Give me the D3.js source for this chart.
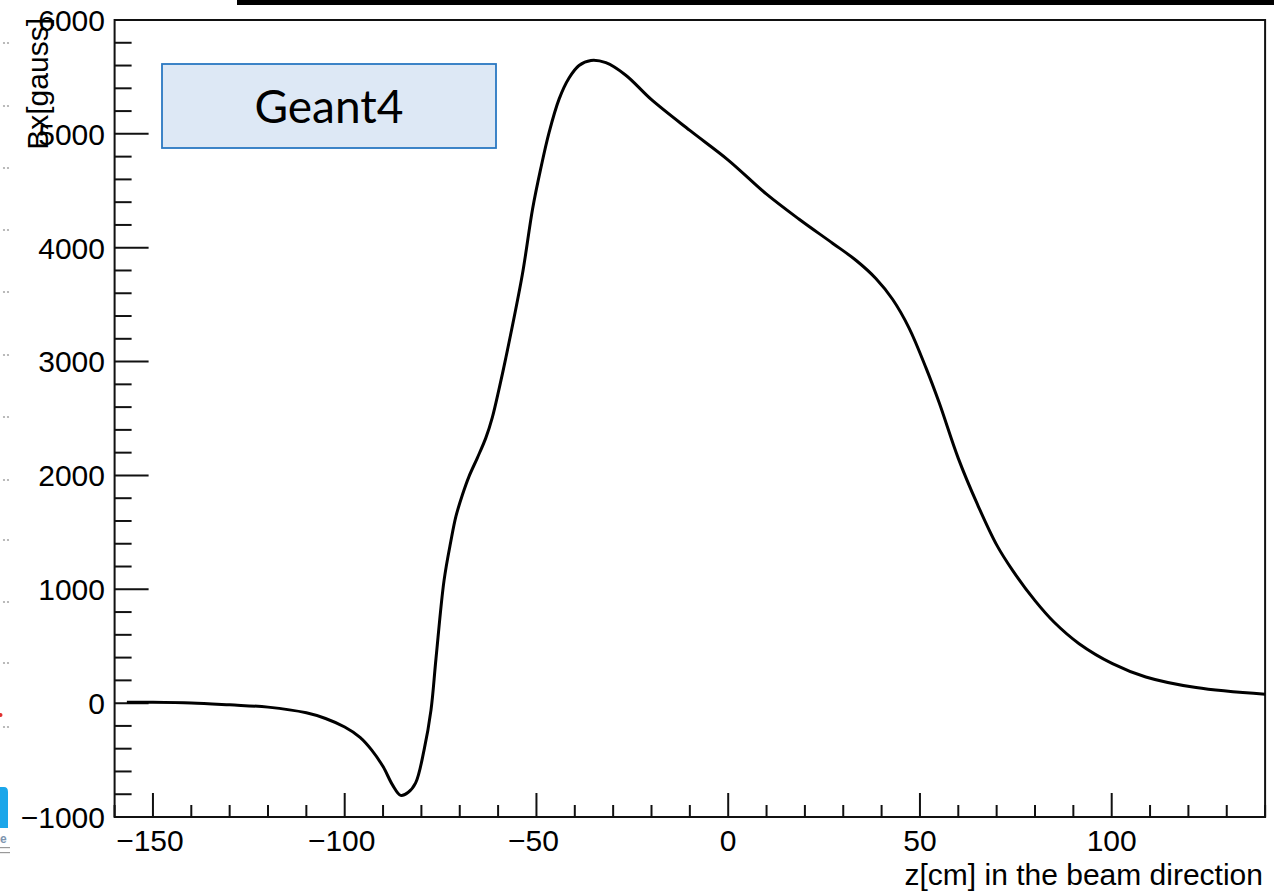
<!DOCTYPE html>
<html>
<head>
<meta charset="utf-8">
<script src="https://cdn.jsdelivr.net/npm/d3@7/dist/d3.min.js"></script>
<style>
  html, body { margin: 0; padding: 0; background: #fff; }
  svg { display: block; }
  .tick-label { font-family: "Liberation Sans", Arial, Helvetica, sans-serif; font-size: 30px; fill: #000; }
</style>
</head>
<body>
<svg id="chart" width="1274" height="892"></svg>
<script>
// Field profile along the beam axis: z position [cm] and Bx [gauss]
const zValues = [
  -156.8, -150, -140, -130, -120, -110, -105, -100, -96, -93, -90, -87.5, -85.4, -83.5, -81.5,
  -79.3, -77.5, -76.2, -74.1, -72.3, -71.0, -69.3, -67.6, -65.4, -63.2, -61.5,
  -59.7, -58.0, -53.7, -51.0, -48.9, -46.7, -44.1, -41.5, -38.9, -35.8, -31.9,
  -26.7, -20, -10, 0, 10, 18.5, 27.2, 33.3, 38.5, 42.9, 47.2,
  51.6, 55, 60, 65, 70, 74.2, 80, 85, 91.5, 100.2, 108.9, 122.0, 140
];
const bxValues = [
  8, 8, 2, -15, -35, -85, -135, -210, -300, -410, -557, -720, -810, -785, -700,
  -411, -61, 390, 1076, 1426, 1640, 1830, 1990, 2155, 2330, 2510,
  2767, 3030, 3760, 4342, 4692, 5013, 5305, 5490, 5600, 5645, 5625,
  5515, 5300, 5030, 4770, 4470, 4250, 4040, 3890, 3730, 3545, 3292,
  2942, 2640, 2150, 1745, 1390, 1164, 900, 710, 522, 347, 230, 137, 78
];
const xMajorTicks = [-150, -100, -50, 0, 50, 100];
const yMajorTicks = [-1000, 0, 1000, 2000, 3000, 4000, 5000, 6000];
const xTitle = "z[cm] in the beam direction";
const yTitle = "Bx[gauss]";
const boxLabel = "Geant4";

const svg = d3.select("#chart");

const x = d3.scaleLinear().domain([-160, 140]).range([114.6, 1265.1]);
const y = d3.scaleLinear().domain([-1000, 6000]).range([817, 20]);

// slide remnants along the left edge
const dotRows = [43, 106, 168, 230, 292, 355, 417, 480, 540, 602, 663, 727];
const deco = svg.append("g");
dotRows.forEach(r => {
  deco.append("circle").attr("cx", 4).attr("cy", r).attr("r", 1.1).attr("fill", "#aaa");
  deco.append("circle").attr("cx", 8).attr("cy", r).attr("r", 1.1).attr("fill", "#aaa");
});
deco.append("circle").attr("cx", 0.5).attr("cy", 715).attr("r", 2).attr("fill", "#e03030");
deco.append("path").attr("d", "M0,787 L4,787 Q8,787 8,792 L8,828 L0,828 Z").attr("fill", "#1ba6ea");
deco.append("text").attr("x", 0).attr("y", 843).attr("font-family", "Liberation Sans, Arial, sans-serif")
  .attr("font-size", 12).attr("font-weight", "bold").attr("fill", "#7e95b0").text("e");
deco.append("rect").attr("x", 0).attr("y", 847).attr("width", 10).attr("height", 1.2).attr("fill", "#999");
deco.append("rect").attr("x", 0).attr("y", 852).attr("width", 10).attr("height", 1.2).attr("fill", "#999");

// dark band along the top
svg.append("rect").attr("x", 237).attr("y", 0).attr("width", 1274 - 237).attr("height", 5).attr("fill", "#000");

// frame
svg.append("rect")
  .attr("x", x(-160)).attr("y", y(6000))
  .attr("width", x(140) - x(-160)).attr("height", y(-1000) - y(6000))
  .attr("fill", "none").attr("stroke", "#111").attr("stroke-width", 2);

// y ticks
const yMinor = d3.range(-1000, 6001, 200);
const yg = svg.append("g");
yg.selectAll("line").data(yMinor).join("line")
  .attr("x1", x(-160)).attr("x2", d => x(-160) + (d % 1000 === 0 ? 34 : 17))
  .attr("y1", d => y(d)).attr("y2", d => y(d))
  .attr("stroke", "#111").attr("stroke-width", 2);
yg.selectAll("text").data(yMajorTicks).join("text")
  .attr("class", "tick-label")
  .attr("x", 105).attr("y", d => y(d)).attr("dy", "0.36em")
  .attr("text-anchor", "end")
  .text(d => d < 0 ? "\u2212" + Math.abs(d) : String(d));

// x ticks
const xMinor = d3.range(-160, 141, 10);
const xg = svg.append("g");
xg.selectAll("line").data(xMinor).join("line")
  .attr("x1", d => x(d)).attr("x2", d => x(d))
  .attr("y1", y(-1000)).attr("y2", d => y(-1000) - (d % 50 === 0 ? 24 : 12))
  .attr("stroke", "#111").attr("stroke-width", 2);
xg.selectAll("text").data(xMajorTicks).join("text")
  .attr("class", "tick-label")
  .attr("x", d => x(d) - (d < 0 ? 3 : 0)).attr("y", 851)
  .attr("text-anchor", "middle")
  .text(d => d < 0 ? "\u2212" + Math.abs(d) : String(d));

// axis titles
svg.append("text").attr("class", "tick-label")
  .attr("x", 1263).attr("y", 885).attr("text-anchor", "end").text(xTitle);
svg.append("text").attr("class", "tick-label")
  .attr("transform", "translate(48,18) rotate(-90)")
  .attr("text-anchor", "end").text(yTitle);

// curve
const pts = zValues.map((z, i) => [z, bxValues[i]]);
const line = d3.line().x(d => x(d[0])).y(d => y(d[1])).curve(d3.curveCatmullRom.alpha(0.5));
svg.append("path").datum(pts)
  .attr("d", line).attr("fill", "none")
  .attr("stroke", "#000").attr("stroke-width", 3).attr("stroke-linejoin", "round");

// label box
svg.append("rect").attr("x", 162).attr("y", 64).attr("width", 334).attr("height", 84)
  .attr("fill", "#dde8f5").attr("stroke", "#2a78c2").attr("stroke-width", 1.8);
svg.append("text").attr("x", 329).attr("y", 123).attr("text-anchor", "middle")
  .attr("font-family", "Lato, 'Open Sans', sans-serif").attr("font-size", 46).attr("fill", "#000")
  .text(boxLabel);
</script>
</body>
</html>
